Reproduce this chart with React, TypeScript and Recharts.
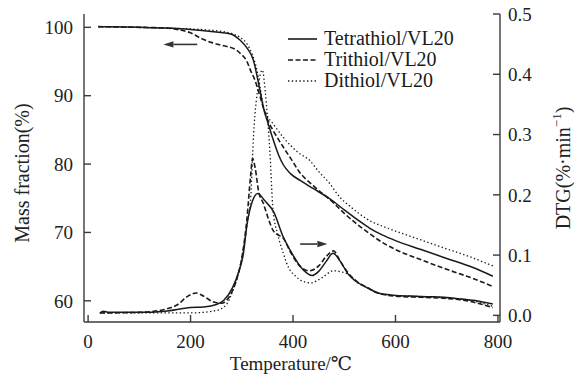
import { ComposedChart, Line, XAxis, YAxis, ReferenceLine, Legend } from "recharts";

const FONT = '"Liberation Serif", "DejaVu Serif", serif';
const INK = "#1a1a1a";
const AXIS = "#3a3a3a";

// TG curves (mass fraction, left axis)
const tetraMassT = [20, 100, 150, 200, 250, 280, 297, 310, 323, 330, 336, 342, 352, 362, 372, 381, 395, 414, 440, 472, 500, 525, 550, 575, 600, 650, 700, 750, 790];
const tetraMassV = [100.1, 100, 99.9, 99.7, 99.3, 99.0, 98.1, 97.0, 95.1, 92.8, 90.6, 88.3, 85.8, 83.4, 81.3, 79.9, 78.6, 77.6, 76.4, 74.9, 73.3, 71.9, 70.6, 69.6, 68.8, 67.5, 66.2, 64.9, 63.6];

const triMassT = [20, 100, 150, 180, 200, 220, 240, 264, 284, 297, 310, 317, 326, 334, 342, 352, 362, 380, 400, 410, 440, 472, 500, 525, 550, 575, 600, 650, 700, 750, 790];
const triMassV = [100.1, 100, 99.9, 99.6, 99.2, 98.4, 97.8, 97.3, 96.9, 96.2, 95.0, 93.7, 92.2, 90.3, 88.3, 86.2, 84.8, 82.6, 80.3, 79.1, 76.8, 74.8, 72.8, 71.2, 69.8, 68.5, 67.5, 66.0, 64.6, 63.3, 62.1];

const diMassT = [20, 100, 150, 250, 280, 297, 310, 320, 330, 336, 342, 350, 360, 381, 410, 433, 449, 470, 492, 510, 530, 550, 575, 600, 650, 700, 750, 790];
const diMassV = [100.1, 100, 99.9, 99.5, 99.1, 98.5, 97.6, 96.1, 93.6, 91.1, 88.5, 87.0, 86.0, 83.9, 81.7, 80.5, 79.0, 77.3, 75.1, 73.9, 72.7, 71.7, 70.9, 70.2, 68.9, 67.6, 66.3, 65.1];

// DTG curves (right axis)
const tetraDtgT = [23, 30, 40, 100, 150, 200, 225, 250, 265, 282, 295, 302, 311, 321, 331, 345, 362, 381, 400, 415, 427, 437, 450, 465, 478, 492, 508, 522, 547, 566, 600, 630, 660, 695, 730, 760, 790];
const tetraDtgV = [0.004, 0.007, 0.005, 0.005, 0.007, 0.013, 0.014, 0.018, 0.025, 0.046, 0.075, 0.097, 0.155, 0.19, 0.202, 0.19, 0.172, 0.13, 0.1, 0.08, 0.07, 0.066, 0.073, 0.09, 0.103, 0.09, 0.068, 0.057, 0.045, 0.037, 0.033, 0.032, 0.031, 0.03, 0.027, 0.024, 0.019];

const triDtgT = [23, 100, 150, 175, 195, 211, 225, 245, 260, 275, 290, 300, 310, 317, 321, 326, 333, 342, 352, 361, 370, 381, 395, 410, 425, 432, 450, 465, 479, 492, 508, 522, 547, 566, 600, 650, 700, 740, 770, 790];
const triDtgV = [0.004, 0.005, 0.01, 0.018, 0.032, 0.037, 0.032, 0.022, 0.02, 0.03, 0.06, 0.095, 0.16, 0.23, 0.26, 0.245, 0.205, 0.186, 0.16, 0.141, 0.134, 0.128, 0.105, 0.085, 0.075, 0.074, 0.082, 0.098, 0.107, 0.09, 0.07, 0.058, 0.045, 0.037, 0.032, 0.03, 0.028, 0.024, 0.018, 0.013];

const diDtgT = [23, 100, 200, 250, 270, 282, 295, 305, 312, 317, 323, 333, 340, 346, 350, 355, 361, 370, 381, 392, 404, 415, 435, 456, 479, 495, 508, 525, 547, 566, 600, 650, 700, 740, 770, 790];
const diDtgV = [0.004, 0.004, 0.004, 0.008, 0.018, 0.04, 0.075, 0.12, 0.16, 0.19, 0.3, 0.385, 0.407, 0.37, 0.33, 0.27, 0.174, 0.135, 0.103, 0.078, 0.066, 0.058, 0.054, 0.062, 0.074, 0.072, 0.068, 0.055, 0.045, 0.037, 0.033, 0.031, 0.029, 0.026, 0.02, 0.015];

const xTicks = [0, 200, 400, 600, 800];
const massTicks = [60, 70, 80, 90, 100];
const dtgTicks = [0, 0.1, 0.2, 0.3, 0.4, 0.5];

const legendItems = [
  { name: "Tetrathiol/VL20", dash: undefined as string | undefined },
  { name: "Trithiol/VL20", dash: "5 2.5" },
  { name: "Dithiol/VL20", dash: "1.4 2.4" },
];

const toPoints = (t: number[], v: number[]) => t.map((x, i) => ({ x, y: v[i] }));

const Arrow = (p: any) => {
  const { x1, y1, x2, y2 } = p;
  const ang = Math.atan2(y2 - y1, x2 - x1);
  const L = 10;
  const W = 3.2;
  const bx = x2 - L * Math.cos(ang);
  const by = y2 - L * Math.sin(ang);
  const pts = `${x2},${y2} ${bx - W * Math.sin(ang)},${by + W * Math.cos(ang)} ${bx + W * Math.sin(ang)},${by - W * Math.cos(ang)}`;
  return (
    <g>
      <line x1={x1} y1={y1} x2={bx} y2={by} stroke="#333" strokeWidth={1.6} />
      <polygon points={pts} fill="#333" />
    </g>
  );
};

const LegendBox = () => (
  <div style={{ fontFamily: FONT, fontSize: 20, color: INK }}>
    {legendItems.map((it) => (
      <div key={it.name} style={{ display: "flex", alignItems: "center", height: 21 }}>
        <svg width={38} height={21}>
          <line x1={2} y1={11} x2={31} y2={11} stroke={INK} strokeWidth={1.6} strokeDasharray={it.dash} />
        </svg>
        <span style={{ lineHeight: "21px" }}>{it.name}</span>
      </div>
    ))}
  </div>
);

const tickStyle = { fill: "#222", fontSize: 19, fontFamily: FONT };

export default function App() {
  return (
    <div style={{ position: "absolute", left: 0, top: 0, width: 574, height: 376, background: "#fff" }}>
      <ComposedChart width={574} height={376} margin={{ top: 14, right: 0, bottom: 0, left: 0 }}>
        <XAxis
          xAxisId="x"
          dataKey="x"
          type="number"
          domain={[-8, 804]}
          ticks={xTicks}
          allowDataOverflow
          height={54}
          tickSize={-7}
          tickMargin={20}
          tick={tickStyle}
          axisLine={{ stroke: AXIS, strokeWidth: 1.4 }}
          tickLine={{ stroke: AXIS, strokeWidth: 1.4 }}
          label={{
            content: () => (
              <text x={291} y={363} textAnchor="middle" dominantBaseline="central" fontFamily={FONT} fontSize={19} fill="#222">
                Temperature/℃
              </text>
            ),
          }}
        />
        <XAxis xAxisId="top" orientation="top" type="number" domain={[-8, 804]} height={0} tick={false} tickLine={false} axisLine={{ stroke: AXIS, strokeWidth: 1.4 }} />
        <YAxis
          yAxisId="mass"
          type="number"
          domain={[56.9, 101.95]}
          ticks={massTicks}
          allowDataOverflow
          width={84}
          tickSize={-7}
          tickMargin={18}
          tick={tickStyle}
          axisLine={{ stroke: AXIS, strokeWidth: 1.4 }}
          tickLine={{ stroke: AXIS, strokeWidth: 1.4 }}
          label={{
            content: () => (
              <text x={22} y={173} transform="rotate(-90 22 173)" textAnchor="middle" dominantBaseline="central" fontFamily={FONT} fontSize={20} fill="#222">
                Mass fraction(%)
              </text>
            ),
          }}
        />
        <YAxis
          yAxisId="dtg"
          orientation="right"
          type="number"
          domain={[-0.011, 0.5]}
          ticks={dtgTicks}
          allowDataOverflow
          width={74}
          tickSize={-7}
          tickMargin={15}
          tickFormatter={(v: number) => v.toFixed(1)}
          tick={tickStyle}
          axisLine={{ stroke: AXIS, strokeWidth: 1.4 }}
          tickLine={{ stroke: AXIS, strokeWidth: 1.4 }}
          label={{
            content: () => (
              <text x={563} y={168} transform="rotate(-90 563 168)" textAnchor="middle" dominantBaseline="central" fontFamily={FONT} fontSize={20} fill="#222">
                <tspan>DTG(%·min</tspan>
                <tspan dy={-7} fontSize={13}>−1</tspan>
                <tspan dy={7}>)</tspan>
              </text>
            ),
          }}
        />

        <Line xAxisId="x" yAxisId="mass" data={toPoints(tetraMassT, tetraMassV)} dataKey="y" type="monotone" dot={false} stroke={INK} strokeWidth={1.5} isAnimationActive={false} />
        <Line xAxisId="x" yAxisId="mass" data={toPoints(triMassT, triMassV)} dataKey="y" type="monotone" dot={false} stroke={INK} strokeWidth={1.6} strokeDasharray="5 2.5" isAnimationActive={false} />
        <Line xAxisId="x" yAxisId="mass" data={toPoints(diMassT, diMassV)} dataKey="y" type="monotone" dot={false} stroke={INK} strokeWidth={1.3} strokeDasharray="1.4 2.4" isAnimationActive={false} />

        <Line xAxisId="x" yAxisId="dtg" data={toPoints(tetraDtgT, tetraDtgV)} dataKey="y" type="monotone" dot={false} stroke={INK} strokeWidth={1.5} isAnimationActive={false} />
        <Line xAxisId="x" yAxisId="dtg" data={toPoints(triDtgT, triDtgV)} dataKey="y" type="monotone" dot={false} stroke={INK} strokeWidth={1.6} strokeDasharray="5 2.5" isAnimationActive={false} />
        <Line xAxisId="x" yAxisId="dtg" data={toPoints(diDtgT, diDtgV)} dataKey="y" type="monotone" dot={false} stroke={INK} strokeWidth={1.3} strokeDasharray="1.4 2.4" isAnimationActive={false} />

        <ReferenceLine xAxisId="x" yAxisId="mass" segment={[{ x: 213, y: 97.5 }, { x: 147, y: 97.5 }]} shape={Arrow} />
        <ReferenceLine xAxisId="x" yAxisId="mass" segment={[{ x: 414, y: 68.3 }, { x: 467, y: 68.3 }]} shape={Arrow} />

        <Legend
          layout="horizontal"
          verticalAlign="middle"
          align="center"
          wrapperStyle={{ left: 286, top: 28, width: 200, height: 66 }}
          content={() => <LegendBox />}
        />
      </ComposedChart>
    </div>
  );
}
